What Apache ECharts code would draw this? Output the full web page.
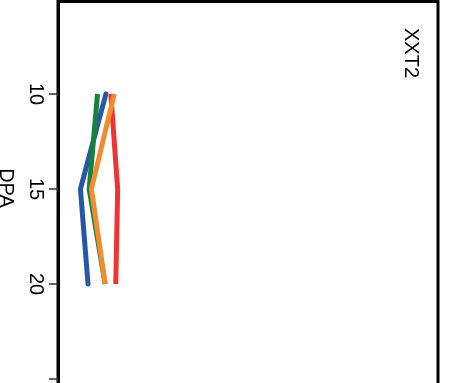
<!DOCTYPE html>
<html>
<head>
<meta charset="utf-8">
<script src="https://cdn.jsdelivr.net/npm/echarts@6/dist/echarts.min.js"></script>
<style>html,body{margin:0;padding:0;background:#fff}#c{width:459px;height:383px}</style>
</head>
<body>
<div id="c"></div>
<script>
const dpa = [10, 15, 20];
const yTicks = [10, 15, 20, 25];
const yTickLabels = [10, 15, 20];
const seriesNames = ['Green', 'Blue', 'Red', 'Orange'];
const greenVals = [10.4, 8.2, 12.4];
const blueVals = [12.6, 5.9, 7.9];
const redVals = [13.9, 15.7, 15.2];
const orangeVals = [14.8, 8.8, 12.4];
const facetLabel = 'XXT2';
const yName = 'DPA';

const FONT = "'Liberation Sans', Arial, sans-serif";
const colors = {Green: '#17823e', Blue: '#2758a8', Red: '#ef3433', Orange: '#f68a2e'};
const caps = {Green: 'butt', Blue: 'round', Red: 'butt', Orange: 'butt'};
const valsByName = {Green: greenVals, Blue: blueVals, Red: redVals, Orange: orangeVals};
const order = ['Red', 'Blue', 'Green', 'Orange'];

const chart = echarts.init(document.getElementById('c'), null, {renderer: 'canvas'});
chart.setOption({
  animation: false,
  backgroundColor: '#fff',
  grid: {left: 58, width: 380, top: 1.5, height: 396.5, show: true, borderColor: '#000', borderWidth: 3, containLabel: false, outerBoundsMode: 'none'},
  xAxis: {type: 'value', min: 0, max: 100, show: false},
  yAxis: {
    type: 'value', inverse: true, min: 5.13, max: 26,
    axisLine: {show: true, lineStyle: {color: '#000', width: 3}},
    axisTick: {show: true, length: 9, lineStyle: {color: '#333', width: 1.5}, customValues: yTicks},
    axisLabel: {rotate: -90, margin: 12, fontSize: 20, color: '#000', fontFamily: FONT, customValues: yTickLabels},
    splitLine: {show: false}
  },
  graphic: [
    {type: 'text', x: 411, y: 53, rotation: -Math.PI / 2, style: {text: facetLabel, fontSize: 20, fontFamily: FONT, fill: '#000', align: 'center', verticalAlign: 'middle'}},
    {type: 'text', x: 6, y: 188, rotation: -Math.PI / 2, style: {text: yName, fontSize: 20, fontFamily: FONT, fill: '#000', align: 'center', verticalAlign: 'middle'}}
  ],
  series: order.map(n => ({
    name: n, type: 'line', symbol: 'none',
    data: dpa.map((d, i) => [valsByName[n][i], d]),
    lineStyle: {color: colors[n], width: 5, cap: caps[n], join: 'miter'},
    itemStyle: {color: colors[n]}
  }))
});
</script>
</body>
</html>
